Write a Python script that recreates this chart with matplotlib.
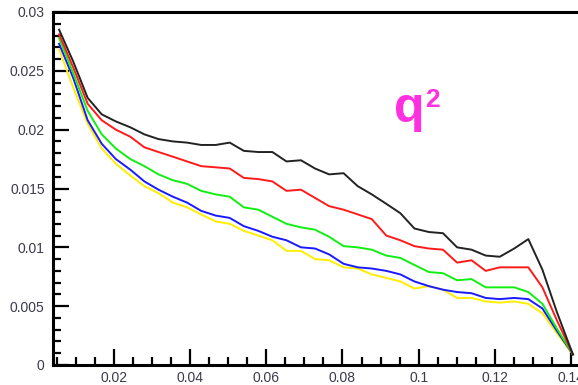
import matplotlib
matplotlib.use("Agg")
from matplotlib import pyplot as plt
from matplotlib import font_manager
from matplotlib.ticker import MultipleLocator, FuncFormatter

# q values (x) and the five curves
q = [0.0056, 0.0093, 0.0131, 0.0168, 0.0205, 0.0243, 0.0280, 0.0317, 0.0355,
     0.0392, 0.0429, 0.0467, 0.0504, 0.0541, 0.0579, 0.0616, 0.0653, 0.0691,
     0.0728, 0.0765, 0.0803, 0.0840, 0.0877, 0.0915, 0.0952, 0.0989, 0.1027,
     0.1064, 0.1101, 0.1139, 0.1176, 0.1213, 0.1251, 0.1288, 0.1325, 0.1363,
     0.1405]

black = [0.0285, 0.0258, 0.0227, 0.0213, 0.0207, 0.0202, 0.0196, 0.0192, 0.0190,
         0.0189, 0.0187, 0.0187, 0.0189, 0.0182, 0.0181, 0.0181, 0.0173, 0.0174,
         0.0167, 0.0162, 0.0163, 0.0152, 0.0145, 0.0137, 0.0129, 0.0116, 0.0113,
         0.0112, 0.0100, 0.0098, 0.0093, 0.0092, 0.0099, 0.0107, 0.0081, 0.0045,
         0.0009]
red = [0.0281, 0.0253, 0.0222, 0.0208, 0.0200, 0.0194, 0.0185, 0.0181, 0.0177,
       0.0173, 0.0169, 0.0168, 0.0167, 0.0159, 0.0158, 0.0156, 0.0148, 0.0149,
       0.0142, 0.0135, 0.0132, 0.0128, 0.0124, 0.0110, 0.0106, 0.0101, 0.0099,
       0.0098, 0.0087, 0.0089, 0.0080, 0.0083, 0.0083, 0.0083, 0.0066, 0.0038,
       0.0009]
green = [0.0278, 0.0248, 0.0216, 0.0196, 0.0184, 0.0175, 0.0169, 0.0162, 0.0157,
         0.0154, 0.0148, 0.0145, 0.0143, 0.0134, 0.0132, 0.0126, 0.0120, 0.0117,
         0.0115, 0.0109, 0.0101, 0.0100, 0.0098, 0.0093, 0.0091, 0.0085, 0.0079,
         0.0078, 0.0072, 0.0073, 0.0066, 0.0066, 0.0066, 0.0062, 0.0052, 0.0031,
         0.0009]
blue = [0.0273, 0.0244, 0.0208, 0.0188, 0.0175, 0.0166, 0.0156, 0.0149, 0.0143,
        0.0138, 0.0131, 0.0127, 0.0125, 0.0118, 0.0114, 0.0109, 0.0106, 0.0100,
        0.0099, 0.0094, 0.0086, 0.0083, 0.0082, 0.0080, 0.0077, 0.0071, 0.0067,
        0.0064, 0.0062, 0.0061, 0.0057, 0.0056, 0.0057, 0.0056, 0.0048, 0.0029,
        0.0009]
yellow = [0.0268, 0.0236, 0.0205, 0.0184, 0.0171, 0.0161, 0.0152, 0.0146, 0.0138,
          0.0134, 0.0128, 0.0122, 0.0120, 0.0114, 0.0110, 0.0106, 0.0097, 0.0097,
          0.0090, 0.0089, 0.0083, 0.0082, 0.0077, 0.0074, 0.0071, 0.0065, 0.0067,
          0.0064, 0.0057, 0.0057, 0.0054, 0.0053, 0.0054, 0.0052, 0.0044, 0.0027,
          0.0009]

series = [(yellow, "#ffee00"), (blue, "#1a1aff"), (green, "#11ee11"),
          (red, "#ff1a1a"), (black, "#222222")]

names = {f.name for f in font_manager.fontManager.ttflist}
label_font = "Liberation Sans" if "Liberation Sans" in names else "DejaVu Sans"
q_font = "Liberation Sans Narrow" if "Liberation Sans Narrow" in names else label_font

fig = plt.figure(figsize=(5.78, 3.85), dpi=100)
ax = fig.add_axes([53 / 578, 20 / 385, 527.5 / 578, 353 / 385])

for ys, c in series:
    ax.plot(q, ys, color=c, lw=1.4)

ax.set_xlim(0.004, 0.1425)
ax.set_ylim(0, 0.03)

ax.xaxis.set_major_locator(MultipleLocator(0.02))
ax.xaxis.set_minor_locator(MultipleLocator(0.005))
ax.yaxis.set_major_locator(MultipleLocator(0.005))
ax.yaxis.set_minor_locator(MultipleLocator(0.001))
fmt = FuncFormatter(lambda v, p: "%g" % round(v, 4))
ax.xaxis.set_major_formatter(fmt)
ax.yaxis.set_major_formatter(fmt)

ax.tick_params(which="both", direction="in", width=1.6, color="black",
               top=False, right=False)
ax.tick_params(which="major", length=11.5)
ax.tick_params(which="minor", length=5.8)
ax.tick_params(axis="y", which="major", pad=6)
ax.tick_params(axis="x", which="major", pad=4)
for lab in ax.get_xticklabels() + ax.get_yticklabels():
    lab.set_fontfamily(label_font)
    lab.set_fontsize(10)
    lab.set_color("#3b3b4a")

for side in ["left", "bottom", "top"]:
    ax.spines[side].set_linewidth(2.2)
ax.spines["right"].set_visible(False)

# "q" with a superscript 2, placed next to the measured right edge of the q
qt = fig.text(394 / 578, (385 - 121.7) / 385, "q", color="#ff30e0", fontsize=36,
              fontweight="bold", family=q_font, ha="left", va="baseline")
fig.canvas.draw()
qbox = qt.get_window_extent(fig.canvas.get_renderer())
fig.text((qbox.x1 + 1) / 578, (385 - 106.7) / 385, "2", color="#ff30e0",
         fontsize=19, fontweight="bold", family=q_font, ha="left", va="baseline")

plt.savefig("out.png", dpi=100)
